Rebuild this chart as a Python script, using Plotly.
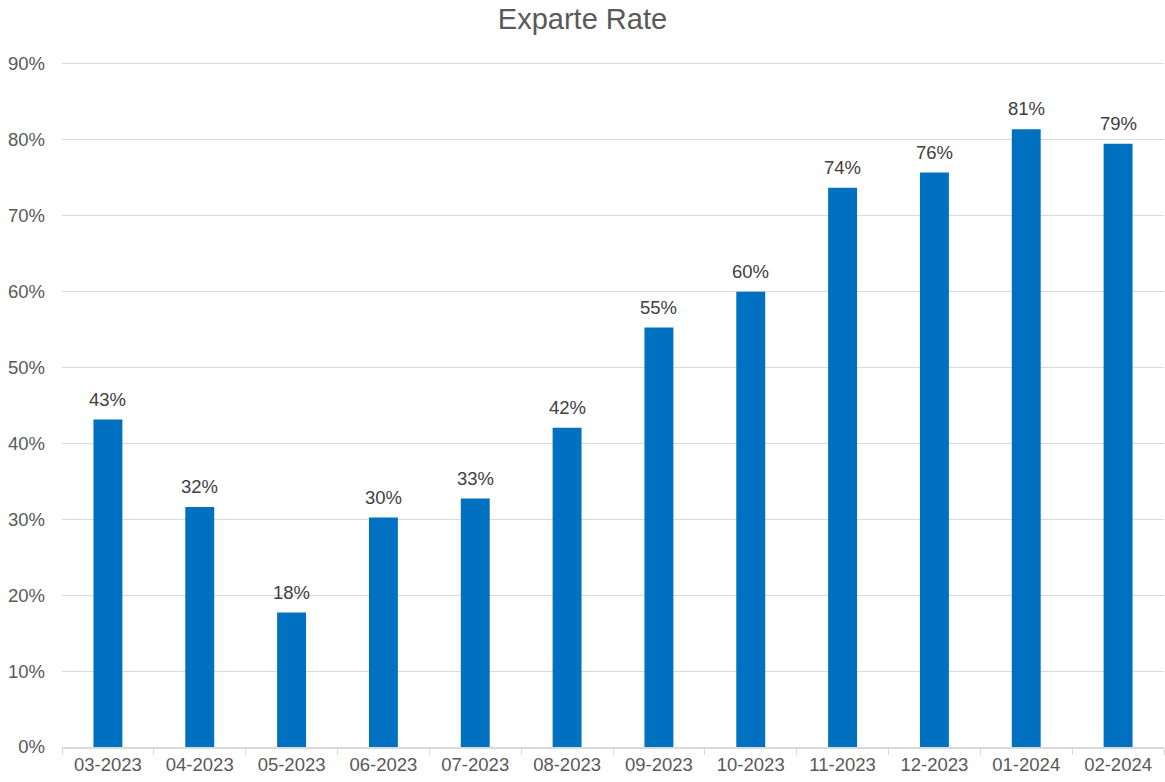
import plotly.graph_objects as go

months = ["03-2023", "04-2023", "05-2023", "06-2023", "07-2023", "08-2023",
          "09-2023", "10-2023", "11-2023", "12-2023", "01-2024", "02-2024"]
rates = [0.431, 0.316, 0.177, 0.302, 0.327, 0.420, 0.552, 0.599, 0.736, 0.756, 0.813, 0.794]
y_ticks = [i / 10 for i in range(10)]

fig = go.Figure(go.Bar(
    x=months, y=rates,
    marker=dict(color="#0070C0", line=dict(width=0)),
    hovertemplate="%{x}: %{y:.1%}<extra></extra>",
))

for m, r in zip(months, rates):
    fig.add_annotation(
        x=m, y=r, text=f"{r:.0%}", showarrow=False,
        xanchor="center", yanchor="bottom", yshift=8,
        font=dict(family="Liberation Sans, Arial", size=18.5, color="#404040"),
    )

fig.update_layout(
    width=1165, height=782,
    margin=dict(l=62, r=1, t=62, b=35),
    paper_bgcolor="white", plot_bgcolor="white",
    bargap=0.685,
    title=dict(text="Exparte Rate", x=0.5, xanchor="center", y=1 - 19 / 782, yanchor="middle",
               font=dict(family="Liberation Sans, Arial", size=29, color="#595959")),
    font=dict(family="Liberation Sans, Arial", size=18.5, color="#595959"),
    showlegend=False,
)
fig.update_xaxes(
    showline=True, linecolor="#D9D9D9", linewidth=1.5,
    ticks="outside", tickson="boundaries", ticklen=6, tickcolor="#D9D9D9",
    tickfont=dict(size=18.5, color="#595959"), showgrid=False,
)
fig.update_yaxes(
    range=[0, 0.9015], tickvals=y_ticks + [0.9], tickformat=".0%",
    showgrid=True, gridcolor="#D9D9D9", gridwidth=1.3,
    zeroline=False, showline=False, ticks="", ticklabelstandoff=16,
    tickfont=dict(size=18.5, color="#595959"),
)

fig.write_html(
    "out.html",
    config={"displayModeBar": False},
    post_script="document.body.style.margin='0';document.body.style.overflow='hidden';",
)
